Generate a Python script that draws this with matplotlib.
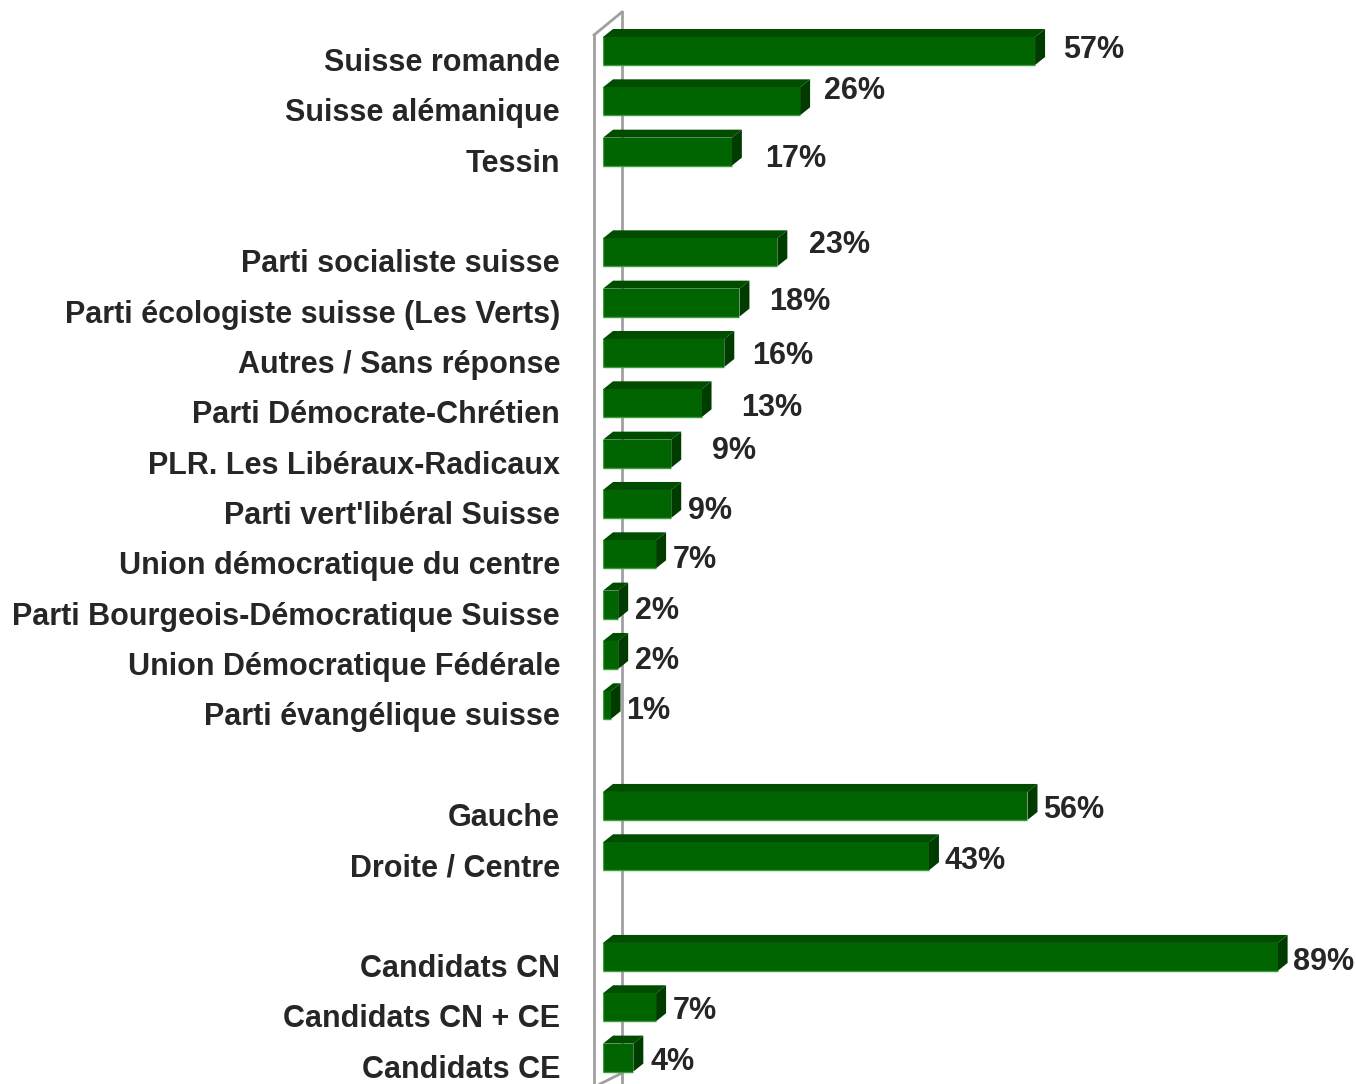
import matplotlib
matplotlib.use("Agg")
import matplotlib.pyplot as plt
from matplotlib.patches import Polygon
from matplotlib import font_manager

categories = [
    "Suisse romande", "Suisse alémanique", "Tessin",
    "Parti socialiste suisse", "Parti écologiste suisse (Les Verts)",
    "Autres / Sans réponse", "Parti Démocrate-Chrétien",
    "PLR. Les Libéraux-Radicaux", "Parti vert'libéral Suisse",
    "Union démocratique du centre", "Parti Bourgeois-Démocratique Suisse",
    "Union Démocratique Fédérale", "Parti évangélique suisse",
    "Gauche", "Droite / Centre",
    "Candidats CN", "Candidats CN + CE", "Candidats CE",
]
values = [57, 26, 17, 23, 18, 16, 13, 9, 9, 7, 2, 2, 1, 56, 43, 89, 7, 4]
value_labels = ["57%", "26%", "17%", "23%", "18%", "16%", "13%", "9%", "9%",
                "7%", "2%", "2%", "1%", "56%", "43%", "89%", "7%", "4%"]
group_sizes = [3, 10, 2, 3]

# label offsets in pixels (dx from bar side end, dy up from bar centre)
label_dx = [18, 14, 23, 22, 20, 18, 30, 31, 7, 7, 7, 7, 6, 6, 6, 5, 7, 7]
label_dy = [4, 13, -4, 10, 4, 0, -2, 6, -4, -3, -3, -3, -3, -1, -2, -2, -1, -1]

# row positions with a blank row between groups
rows = []
r = 0
for g in group_sizes:
    for _ in range(g):
        rows.append(r)
        r += 1
    r += 1

W, H = 1356, 1084
fig = plt.figure(figsize=(W / 100, H / 100), dpi=100)
x0_px = 603
px_per_pct = 7.58
row_px = 50.33
row0_px = 51
ax = fig.add_axes([x0_px / W, 0, (W - x0_px) / W, 1])
xmax = (W - x0_px) / px_per_pct
ax.set_xlim(0, xmax)
ax.set_ylim((H - row0_px) / row_px, -row0_px / row_px)
ax.axis("off")

fams = [f.name for f in font_manager.fontManager.ttflist]
font = "Liberation Sans Narrow" if "Liberation Sans Narrow" in fams else "Liberation Sans"
text_color = "#262626"

dxp = lambda p: p / px_per_pct
dyp = lambda p: p / row_px

bar_h = dyp(28)
depth_x = dxp(10)
depth_y = dyp(8)

# back wall
wall_col = "#a0a0a0"
lx, rx = dxp(-9), dxp(19)
top_l, top_r = dyp(35 - row0_px), dyp(12 - row0_px)
bot = (H - row0_px) / row_px
ax.plot([lx, lx], [top_l, bot + 1], color=wall_col, lw=2, clip_on=False, zorder=1)
ax.plot([rx, rx], [top_r, bot + 1], color=wall_col, lw=2, clip_on=False, zorder=1)
ax.plot([lx, rx], [top_l, top_r], color=wall_col, lw=2, clip_on=False, zorder=1)
ax.plot([dxp(-3), rx], [bot, bot - dyp(11)], color=wall_col, lw=2, clip_on=False, zorder=1)

front_c = "#006400"
top_c = "#004d00"
side_c = "#003c00"
edge_c = "#3c9c3c"

for i, (row, v) in enumerate(zip(rows, values)):
    y_top = row - bar_h / 2
    y_bot = row + bar_h / 2
    ax.add_patch(Polygon([(0, y_top), (v, y_top), (v + depth_x, y_top - depth_y),
                          (depth_x, y_top - depth_y)], closed=True,
                         facecolor=top_c, edgecolor="none", zorder=3))
    ax.add_patch(Polygon([(v, y_top), (v + depth_x, y_top - depth_y),
                          (v + depth_x, y_bot - depth_y), (v, y_bot)], closed=True,
                         facecolor=side_c, edgecolor="none", zorder=3))
    ax.barh(row, v, height=bar_h, left=0, color=front_c, edgecolor="none", zorder=4)
    ax.plot([0, v], [y_bot, y_bot], color=edge_c, lw=1, zorder=5, solid_capstyle="butt")
    ax.plot([0, 0], [y_top, y_bot], color=edge_c, lw=1, zorder=5, solid_capstyle="butt")
    ax.text(v + depth_x + dxp(label_dx[i]), row - dyp(label_dy[i] - 3), value_labels[i],
            ha="left", va="center", fontsize=22, fontweight="bold",
            family=font, color=text_color, zorder=6)
    ax.text(dxp(-43), row + dyp(12), categories[i], ha="right", va="center",
            fontsize=22, fontweight="bold", family=font, color=text_color,
            clip_on=False, zorder=6)

fig.savefig("out.png", dpi=100, facecolor="white")
